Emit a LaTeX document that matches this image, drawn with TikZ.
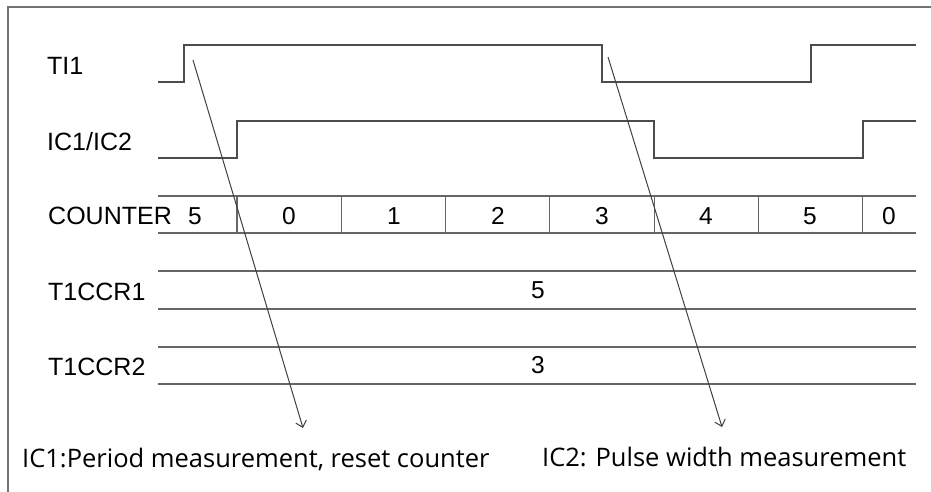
\documentclass[tikz,border=0pt]{standalone}
\usepackage{fontspec}
\usetikzlibrary{arrows.meta}
\setmainfont{Liberation Sans}
\newfontfamily\capfont{Open Sans}
\begin{document}
\begin{tikzpicture}[x=1pt,y=-1pt,
  sig/.style={draw=black!70,line width=1.1pt},
  grid/.style={draw=black!60,line width=1.1pt},
  arr/.style={draw=black!75,line width=1pt,-{Straight Barb[length=6pt,width=11pt]}},
  lbl/.style={anchor=base west,inner sep=0pt,font=\fontsize{25}{28}\selectfont},
  num/.style={anchor=base,inner sep=0pt,font=\fontsize{24.5}{28}\selectfont},
  captxt/.style={anchor=base west,inner sep=0pt,font=\capfont\fontsize{25.5}{30}\selectfont}]
\useasboundingbox (0,0) rectangle (931,492);
\draw[draw=black!55,line width=1.2pt] (931,7) -- (8,7) -- (8,492);
% labels
\node[lbl] (lti) at (47,75) {TI1};
\node[lbl] (lic) at (47,150) {IC1/IC2};
\node[lbl] (lcnt) at (48,224) {COUNTER};
\node[lbl] (lr1) at (48,300) {T1CCR1};
\node[lbl] (lr2) at (48,375) {T1CCR2};
% TI1
\draw[sig] (158,82) -- (184,82) -- (184,45) -- (602,45) -- (602,82) -- (811,82) -- (811,45) -- (916,45);
% IC1/IC2
\draw[sig] (158,158) -- (237,158) -- (237,121) -- (654,121) -- (654,158) -- (863,158) -- (863,121) -- (916,121);
% counter
\draw[grid] (158,196) -- (916,196);
\draw[grid] (158,233) -- (916,233);
\foreach \x in {237,341.3,445.6,549.9,654.2,758.5,862.8}
  \draw[grid] (\x,196) -- (\x,233);
\node[num] (c0) at (195,224) {5};
\node[num] (c1) at (289,224) {0};
\node[num] (c2) at (394,224) {1};
\node[num] (c3) at (498,224) {2};
\node[num] (c4) at (602,224) {3};
\node[num] (c5) at (706,224) {4};
\node[num] (c6) at (810,224) {5};
\node[num] (c7) at (889,224) {0};
% registers
\foreach \y in {271,309,347,384}
  \draw[grid] (158,\y) -- (916,\y);
\node[num] (v1) at (538,298) {5};
\node[num] (v2) at (538,373) {3};
% arrows
\coordinate (a1s) at (193,60);
\coordinate (a1e) at (303,428);
\coordinate (a2s) at (608,57);
\coordinate (a2e) at (722,427);
\draw[arr] (a1s) -- (a1e);
\draw[arr] (a2s) -- (a2e);
% captions
\node[captxt] (cap1) at (22,467) {IC1:Period measurement, reset counter};
\node[captxt] (cap2) at (542,466) {IC2: Pulse width measurement};
\end{tikzpicture}
\end{document}
